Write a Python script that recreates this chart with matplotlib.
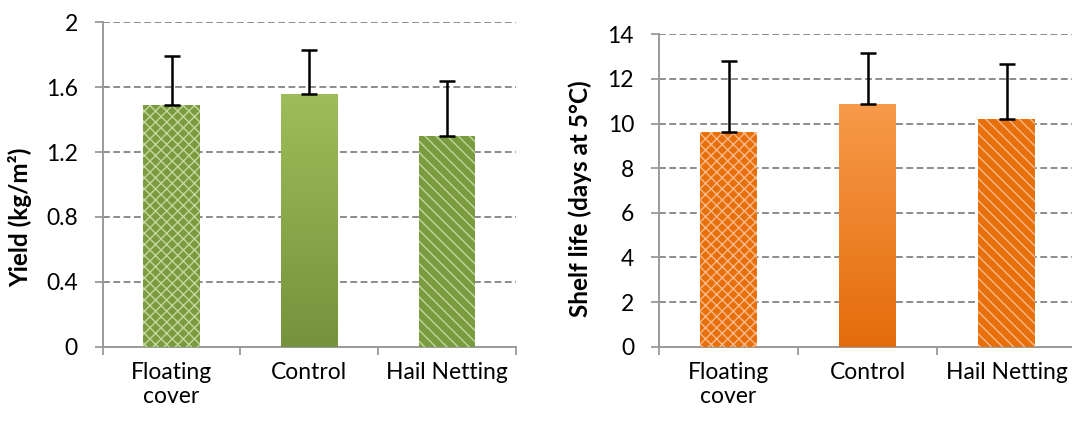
import numpy as np
import matplotlib
matplotlib.use('Agg')
import matplotlib.pyplot as plt
from matplotlib.colors import LinearSegmentedColormap

treatments = ['Floating\ncover', 'Control', 'Hail Netting']
yield_mean = [1.49, 1.56, 1.30]
yield_sd = [0.30, 0.27, 0.34]
shelf_mean = [9.61, 10.86, 10.19]
shelf_sd = [3.18, 2.29, 2.49]

plt.rcParams['font.family'] = ['Lato', 'DejaVu Sans']
plt.rcParams['hatch.linewidth'] = 1.0

GRID = '#8c8c8c'
SPINE = '#9a9a9a'


def draw_panel(ax, means, sds, base, light, top, bottom, ymax, step, fmt):
    x = np.arange(len(means))
    width = 0.41
    hatches = ['xxx', None, '\\\\\\']
    for i, (m, h) in enumerate(zip(means, hatches)):
        if h is None:
            b = ax.bar(x[i], m, width, color=top, linewidth=0, zorder=3)[0]
            cmap = LinearSegmentedColormap.from_list('g', [bottom, top])
            grad = np.linspace(0, 1, 256).reshape(-1, 1)
            im = ax.imshow(grad, cmap=cmap, origin='lower', aspect='auto',
                           extent=[x[i] - width / 2, x[i] + width / 2, 0, m], zorder=3)
            im.set_clip_path(b)
        else:
            ax.bar(x[i], m, width, color=base, edgecolor=light, hatch=h,
                   linewidth=0, zorder=3)
    ax.errorbar(x, means, yerr=[np.zeros(len(sds)), sds], fmt='none', ecolor='black',
                elinewidth=1.8, capsize=5.5, capthick=1.8, zorder=4)

    ax.set_xlim(-0.5, len(means) - 0.5)
    ax.set_ylim(0, ymax)
    ticks = np.arange(0, ymax + step / 2, step)
    ax.set_yticks(ticks)
    ax.set_yticklabels([fmt(t) for t in ticks])
    ax.set_xticks(x)
    ax.set_xticklabels(treatments)
    ax.set_xticks(np.arange(-0.5, len(means)), minor=True)
    ax.tick_params(axis='x', which='major', length=0, pad=11, labelsize=16.5)
    ax.tick_params(axis='x', which='minor', length=6, width=1.3, color=SPINE, direction='out')
    ax.tick_params(axis='y', length=6, width=1.3, color=SPINE, pad=12, labelsize=16.5)
    for t in ticks[1:]:
        ax.axhline(t, color=GRID, linestyle=(0, (3.5, 1.8)), linewidth=1.4, zorder=1)
    for s in ['top', 'right']:
        ax.spines[s].set_visible(False)
    for s in ['left', 'bottom']:
        ax.spines[s].set_color(SPINE)
        ax.spines[s].set_linewidth(1.4)


fig = plt.figure(figsize=(10.72, 4.23), dpi=100)
ax1 = fig.add_axes([102.7 / 1072, 76.3 / 423, 413.3 / 1072, 324.4 / 423])
ax2 = fig.add_axes([659 / 1072, 76.3 / 423, 417 / 1072, 312.4 / 423])

draw_panel(ax1, yield_mean, yield_sd, '#7b9b40', '#c3d69b', '#9fbd5a', '#76923c',
           2.0, 0.4, lambda t: '0' if t == 0 else ('2' if abs(t - 2) < 1e-9 else f'{t:.1f}'))
draw_panel(ax2, shelf_mean, shelf_sd, '#e8700a', '#f9b98a', '#f79a4a', '#e46c0a',
           14, 2, lambda t: f'{int(round(t))}')

fig.text(20 / 1072, 1 - 217 / 423, 'Yield (kg/m²)', rotation=90, ha='center', va='center',
         fontsize=17.5, fontweight='bold')
fig.text(580 / 1072, 1 - 199 / 423, 'Shelf life (days at 5°C)', rotation=90, ha='center',
         va='center', fontsize=17.5, fontweight='bold')

fig.savefig('out.png', dpi=100)
